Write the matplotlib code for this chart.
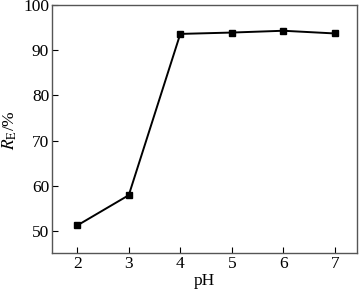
import matplotlib
matplotlib.use("Agg")
import matplotlib.pyplot as plt

# data
ph = [2, 3, 4, 5, 6, 7]
re_pct = [51.2, 57.9, 93.6, 93.9, 94.3, 93.7]
xticks = [2, 3, 4, 5, 6, 7]
yticks = [50, 60, 70, 80, 90, 100]

plt.rcParams['font.family'] = ['Liberation Serif', 'DejaVu Serif']
plt.rcParams['mathtext.fontset'] = 'stix'
plt.rcParams['font.size'] = 12.5

fig = plt.figure(figsize=(3.6, 2.91), dpi=100)
ax = fig.add_axes([52/360, 1 - 253/291, (357 - 52)/360, (253 - 5)/291])

ax.plot(ph, re_pct, color='black', lw=1.4, marker='s', ms=5)

ax.set_xlim(1.51, 7.43)
ax.set_ylim(45.1, 100)
ax.set_xticks(xticks)
ax.set_yticks(yticks)
ax.tick_params(direction='in', length=4, width=0.8, colors='black',
               labelsize=12.5, pad=2)
for s in ax.spines.values():
    s.set_color('#555555')
    s.set_linewidth(1.0)

ax.set_xlabel('pH', labelpad=1)
# y label placed by hand so it stays inside the figure
fig.text(10/360, 1 - 130/291, r'$R_{\mathrm{E}}$/%', rotation=90,
         ha='center', va='center', fontsize=12.5)

fig.savefig('out.png', dpi=100)
